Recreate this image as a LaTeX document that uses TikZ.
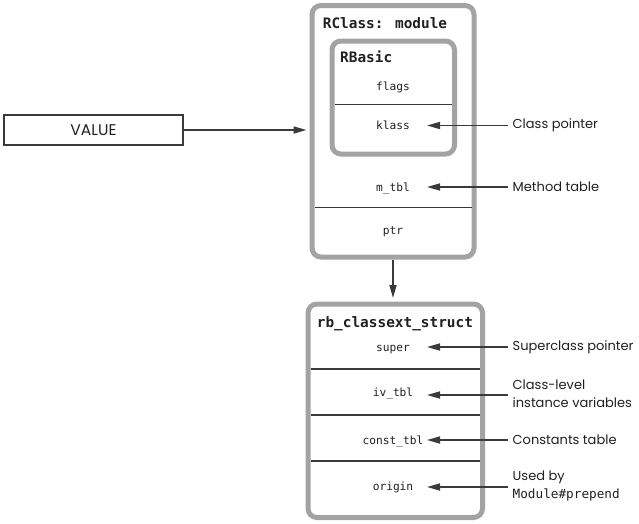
\documentclass[tikz,border=0pt]{standalone}
\usepackage{fontspec}
\setmainfont{Poppins}
\newfontfamily\monof{DejaVu Sans Mono}
\usetikzlibrary{arrows.meta,calc}
\definecolor{boxgray}{HTML}{A3A3A3}
\definecolor{ink}{HTML}{231F20}
\definecolor{arrowc}{HTML}{3A3A3A}
\begin{document}
\begin{tikzpicture}[x=1pt,y=-1pt,
  structbox/.style={draw=boxgray, line width=5pt, rounded corners=9pt, inner sep=0pt},
  title/.style={font=\monof\bfseries\fontsize{14.4}{16}\selectfont, text=ink, anchor=base west, inner sep=0pt},
  field/.style={font=\monof\fontsize{11.2}{13}\selectfont, text=ink, inner sep=0pt, text height=8.2pt, text depth=0pt},
  sepline/.style={draw=arrowc, line width=1.5pt},
  ptr/.style={draw=arrowc, line width=1.6pt, -{Triangle[length=13pt,width=7pt]}},
  note/.style={font=\fontsize{13}{18}\selectfont, text=ink, anchor=west, inner xsep=4.5pt, inner ysep=0pt, align=left},
  valbox/.style={draw=arrowc, line width=1.2pt, minimum width=179pt, minimum height=30pt, inner sep=0pt, font=\fontsize{15.5}{16}\selectfont, text=ink}
]
\useasboundingbox (0,0) rectangle (639,523);

% boxes
\node[structbox, minimum width=162pt, minimum height=251.5pt] (rclass) at (393,131.25) {};
\node[structbox, minimum width=122.5pt, minimum height=113pt] (rbasic) at (393.25,97.5) {};
\node[structbox, minimum width=174.5pt, minimum height=213.5pt] (rbext) at (395.25,410.75) {};
\node[valbox] (value) at (93.5,130) {VALUE};

% titles
\node[title] (trclass) at (322.7,28.8) {RClass: module};
\node[title] (trbasic) at (340,62) {RBasic};
\node[title] (trbext) at (316.7,327) {rb\_classext\_struct};

% fields
\node[field] (flags) at (393,86) {flags};
\node[field] (klass) at (393,125.5) {klass};
\node[field] (mtbl) at (393,187) {m\_tbl};
\node[field] (ptrf) at (393,230) {ptr};
\node[field] (super) at (393,347) {super};
\node[field] (ivtbl) at (393,392.5) {iv\_tbl};
\node[field] (consttbl) at (393,440) {const\_tbl};
\node[field] (origin) at (393,486) {origin};

% separators
\coordinate (s1) at (0,104.3);
\coordinate (s2) at (0,207.3);
\coordinate (s3) at (0,369);
\coordinate (s4) at (0,415);
\coordinate (s5) at (0,461);
\draw[sepline] ([xshift=5pt]rbasic.west |- s1) -- ([xshift=-5pt]rbasic.east |- s1);
\draw[sepline] ([xshift=5pt]rclass.west |- s2) -- ([xshift=-5pt]rclass.east |- s2);
\draw[sepline] ([xshift=5pt]rbext.west |- s3) -- ([xshift=-5pt]rbext.east |- s3);
\draw[sepline] ([xshift=5pt]rbext.west |- s4) -- ([xshift=-5pt]rbext.east |- s4);
\draw[sepline] ([xshift=5pt]rbext.west |- s5) -- ([xshift=-5pt]rbext.east |- s5);

% notes
\coordinate (tipx) at (427,0);
\node[note] (nclass) at (508,125.5) {Class pointer};
\node[note] (nmethod) at (508,187) {Method table};
\node[note] (nsuper) at (508,347) {Superclass pointer};
\node[note] (niv) at (508,393.5) {Class-level\\instance variables};
\node[note] (nconst) at (508,440) {Constants table};
\node[note] (norigin) at (508,486) {Used by\\{\monof\fontsize{12.7}{18}\selectfont Module\#prepend}};

\draw[ptr] (nclass.west) -- (nclass.west -| tipx);
\draw[ptr] (nmethod.west) -- (nmethod.west -| tipx);
\draw[ptr] (nsuper.west) -- (nsuper.west -| tipx);
\draw[ptr] ([yshift=-1.5pt]niv.west) -- ([yshift=-1.5pt]niv.west -| tipx);
\draw[ptr] (nconst.west) -- (nconst.west -| tipx);
\draw[ptr] ([yshift=-1pt]norigin.west) -- ([yshift=-1pt]norigin.west -| tipx);

% connectors between structures
\draw[ptr, shorten >=3pt] (value.east) -- (value.east -| rclass.west);
\draw[ptr, shorten >=3.5pt] (rclass.south) -- (rbext.north -| rclass.south);
\end{tikzpicture}
\end{document}
